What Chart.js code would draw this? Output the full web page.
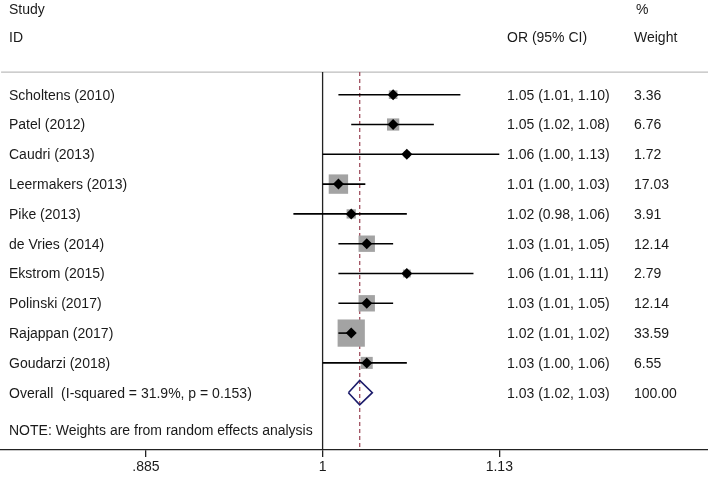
<!DOCTYPE html>
<html>
<head>
<meta charset="utf-8">
<script src="https://cdn.jsdelivr.net/npm/chart.js@4.4.1/dist/chart.umd.min.js"></script>
<style>
  html, body { margin: 0; padding: 0; background: #fff; }
  #wrap { width: 708px; height: 478px; }
</style>
</head>
<body>
<div id="wrap"><canvas id="forest"></canvas></div>
<script>
// study data
const studies = ["Scholtens (2010)", "Patel (2012)", "Caudri (2013)", "Leermakers (2013)", "Pike (2013)",
  "de Vries (2014)", "Ekstrom (2015)", "Polinski (2017)", "Rajappan (2017)", "Goudarzi (2018)"];
const orValues = [1.050, 1.050, 1.060, 1.011, 1.020, 1.031, 1.060, 1.031, 1.020, 1.031];
const ciLow = [1.011, 1.020, 1.000, 1.000, 0.980, 1.011, 1.011, 1.011, 1.011, 1.000];
const ciHigh = [1.100, 1.080, 1.130, 1.030, 1.060, 1.050, 1.110, 1.050, 1.022, 1.060];
const weights = [3.36, 6.76, 1.72, 17.03, 3.91, 12.14, 2.79, 12.14, 33.59, 6.55];
const orLabels = ["1.05 (1.01, 1.10)", "1.05 (1.02, 1.08)", "1.06 (1.00, 1.13)", "1.01 (1.00, 1.03)",
  "1.02 (0.98, 1.06)", "1.03 (1.01, 1.05)", "1.06 (1.01, 1.11)", "1.03 (1.01, 1.05)",
  "1.02 (1.01, 1.02)", "1.03 (1.00, 1.06)"];
const weightLabels = ["3.36", "6.76", "1.72", "17.03", "3.91", "12.14", "2.79", "12.14", "33.59", "6.55"];

const overallLabel = "Overall  (I-squared = 31.9%, p = 0.153)";
const overallOR = 1.026;
const overallLow = 1.018;
const overallHigh = 1.035;
const overallORLabel = "1.03 (1.02, 1.03)";
const overallWeightLabel = "100.00";
const noteText = "NOTE: Weights are from random effects analysis";

const xTicks = [0.885, 1, 1.13];
const xTickLabels = [".885", "1", "1.13"];

const FONT = "Liberation Sans, Arial, Helvetica, sans-serif";
const X_MIN = 0.8006, X_MAX = 1.3055;
const Y_MIN = -2.178, Y_MAX = 12.923;
const TOP_ROW = 0.24;        // where the header rule sits
const overallRow = studies.length + 1;

const datasets = [];

// point estimates (black diamonds) on top
datasets.push({
  type: "scatter",
  data: orValues.map((v, i) => ({ x: v, y: i + 1 })),
  pointStyle: "rectRot",
  pointRadius: 5.5,
  backgroundColor: "#000",
  borderColor: "#000",
  borderWidth: 0,
  order: 0
});

// confidence intervals
studies.forEach((s, i) => {
  datasets.push({
    type: "line",
    data: [{ x: ciLow[i], y: i + 1 }, { x: ciHigh[i], y: i + 1 }],
    borderColor: "#000",
    borderWidth: 1.6,
    pointRadius: 0,
    fill: false,
    order: 1
  });
});

// weight boxes, area proportional to weight
datasets.push({
  type: "scatter",
  data: weights.map((w, i) => ({ x: orValues[i], y: i + 1 })),
  pointStyle: "rect",
  pointRadius: weights.map(w => 4.7 * Math.sqrt(w) / 1.414),
  backgroundColor: "#a3a3a3",
  borderWidth: 0,
  order: 2
});

// overall diamond
const halfH = 0.41;
datasets.push({
  type: "line",
  data: [
    { x: overallLow, y: overallRow }, { x: overallOR, y: overallRow - halfH },
    { x: overallHigh, y: overallRow }, { x: overallOR, y: overallRow + halfH },
    { x: overallLow, y: overallRow }
  ],
  borderColor: "#1c1c6b",
  borderWidth: 1.6,
  backgroundColor: "#fff",
  fill: true,
  pointRadius: 0,
  tension: 0,
  order: 3
});

// dashed overall line
datasets.push({
  type: "line",
  data: [{ x: overallOR, y: TOP_ROW }, { x: overallOR, y: Y_MAX }],
  borderColor: "#a0505f",
  borderWidth: 1.3,
  borderDash: [4, 3],
  pointRadius: 0,
  order: 4
});

// no-effect line at 1
datasets.push({
  type: "line",
  data: [{ x: 1, y: TOP_ROW }, { x: 1, y: Y_MAX }],
  borderColor: "#222",
  borderWidth: 1.3,
  pointRadius: 0,
  order: 5
});

// header rule
datasets.push({
  type: "line",
  data: [{ x: X_MIN, y: TOP_ROW }, { x: X_MAX, y: TOP_ROW }],
  borderColor: "#bdbdbd",
  borderWidth: 1.3,
  pointRadius: 0,
  order: 6
});

// text columns
const textPlugin = {
  id: "forestText",
  afterDraw(chart) {
    const ctx = chart.ctx;
    const ys = chart.scales.y;
    ctx.save();
    ctx.fillStyle = "#1a1a1a";
    ctx.font = "14px " + FONT;
    ctx.textBaseline = "middle";
    ctx.textAlign = "left";
    const row = r => ys.getPixelForValue(r);

    ctx.fillText("Study", 9, 10);
    ctx.fillText("ID", 9, 38);
    ctx.fillText("OR (95% CI)", 507, 38);
    ctx.fillText("%", 636, 10);
    ctx.fillText("Weight", 634, 38);

    studies.forEach((s, i) => {
      const y = row(i + 1) + 1;
      ctx.fillText(s, 9, y);
      ctx.fillText(orLabels[i], 507, y);
      ctx.fillText(weightLabels[i], 634, y);
    });
    const yo = row(overallRow) + 1;
    ctx.fillText(overallLabel, 9, yo);
    ctx.fillText(overallORLabel, 507, yo);
    ctx.fillText(overallWeightLabel, 634, yo);
    ctx.fillText(noteText, 9, row(12.3));
    ctx.restore();
  }
};

new Chart(document.getElementById("forest"), {
  data: { datasets },
  options: {
    responsive: true,
    maintainAspectRatio: false,
    animation: false,
    layout: { padding: 0, autoPadding: false },
    plugins: { legend: { display: false }, tooltip: { enabled: false } },
    scales: {
      x: {
        type: "logarithmic",
        min: X_MIN,
        max: X_MAX,
        afterBuildTicks: scale => { scale.ticks = xTicks.map(v => ({ value: v })); },
        afterFit: scale => { scale.height = 28; scale.paddingLeft = 0; scale.paddingRight = 0; },
        ticks: {
          callback: (v) => xTickLabels[xTicks.indexOf(v)],
          color: "#1a1a1a",
          font: { family: FONT, size: 14 },
          padding: 2,
          maxRotation: 0,
          autoSkip: false
        },
        grid: { drawOnChartArea: false, drawTicks: true, tickLength: 7, color: "#222", lineWidth: 1.3 },
        border: { display: true, color: "#222", width: 1.3 }
      },
      y: {
        type: "linear",
        display: false,
        reverse: true,
        min: Y_MIN,
        max: Y_MAX
      }
    }
  },
  plugins: [textPlugin]
});
</script>
</body>
</html>
